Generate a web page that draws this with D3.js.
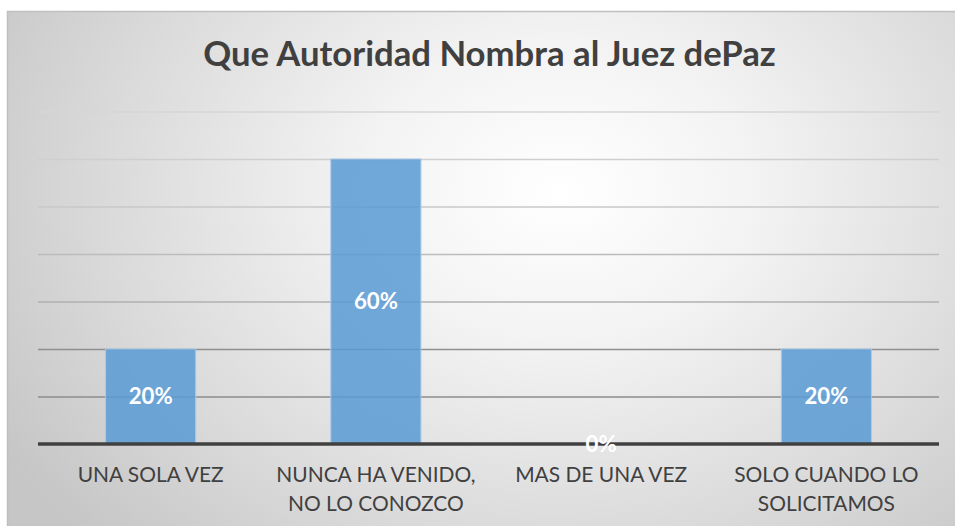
<!DOCTYPE html>
<html>
<head>
<meta charset="utf-8">
<script src="https://cdn.jsdelivr.net/npm/d3@7"></script>
<style>
    html, body { margin: 0; padding: 0; background: #ffffff; overflow: hidden; }
    svg { display: block; }
    text { font-family: Lato, "Open Sans", "DejaVu Sans", sans-serif; }
</style>
</head>
<body>
<script>

// data
var title = "Que Autoridad Nombra al Juez dePaz";
var categories = [
    "UNA SOLA VEZ",
    "NUNCA HA VENIDO,\nNO LO CONOZCO",
    "MAS DE UNA VEZ",
    "SOLO CUANDO LO\nSOLICITAMOS"
];
var values = [0.20, 0.60, 0.00, 0.20];
var gridTicks = [0.1, 0.2, 0.3, 0.4, 0.5, 0.6, 0.7];
var yMax = 0.7;

var W = 955, H = 526;
var plot = { left: 38, right: 939, top: 111.5, bottom: 444 };

var svg = d3.select("body")
    .append("svg")
        .attr("width", W)
        .attr("height", H);

var defs = svg.append("defs");

// soft radial background, white near the title, grey towards the edges
var bg = defs.append("radialGradient")
    .attr("id", "bg")
    .attr("gradientUnits", "userSpaceOnUse")
    .attr("cx", 0).attr("cy", 0).attr("r", 1)
    .attr("gradientTransform", "translate(560,190) scale(650,500)");

bg.append("stop").attr("offset", 0).attr("stop-color", "#ffffff");
bg.append("stop").attr("offset", 0.3).attr("stop-color", "#f3f3f3");
bg.append("stop").attr("offset", 0.7).attr("stop-color", "#dadada");
bg.append("stop").attr("offset", 1).attr("stop-color", "#c6c6c6");

svg.append("rect")
    .attr("x", 7.5)
    .attr("y", 11.5)
    .attr("width", 965)
    .attr("height", 540)
    .attr("fill", "url(#bg)")
    .attr("stroke", "#bfbfbf")
    .attr("stroke-width", 1.5);

var x = d3.scaleBand()
    .domain(categories)
    .range([plot.left, plot.right])
    .paddingInner(0.6)
    .paddingOuter(0.3);

var y = d3.scaleLinear()
    .domain([0, yMax])
    .range([plot.bottom, plot.top]);

// gridlines get darker towards the axis
var gridColor = d3.scaleLinear()
    .domain([0.1, 0.2, 0.3, 0.5, 0.7])
    .range(["#8c8c8c", "#8f8f8f", "#b0b0b0", "#c8c8c8", "#d6d6d6"]);

svg.append("g")
    .attr("transform", "translate(" + plot.left + ",0)")
    .call(d3.axisLeft(y)
        .tickValues(gridTicks)
        .tickSize(-(plot.right - plot.left))
        .tickFormat(""))
    .call(function (g) { g.select(".domain").remove(); })
    .selectAll(".tick line")
        .attr("stroke", function (d) { return gridColor(d); })
        .attr("stroke-width", 1.3);

svg.selectAll(".bar")
    .data(values)
    .enter()
    .append("rect")
        .attr("class", "bar")
        .attr("x", function (d, i) { return x(categories[i]); })
        .attr("y", function (d) { return y(d); })
        .attr("width", x.bandwidth())
        .attr("height", function (d) { return y(0) - y(d); })
        .attr("fill", "#5b9bd5")
        .attr("fill-opacity", 0.86)
        .attr("stroke", "#a9c9e8")
        .attr("stroke-width", 1);

// axis line
svg.append("line")
    .attr("x1", plot.left)
    .attr("x2", plot.right)
    .attr("y1", y(0))
    .attr("y2", y(0))
    .attr("stroke", "#404040")
    .attr("stroke-width", 3.5);

// fit a text element to a measured width
function fitWidth(sel, target) {
    var w = sel.node().getComputedTextLength();
    var fs = parseFloat(sel.style("font-size"));
    return fs * target / w;
}

// title
var t = svg.append("text")
    .attr("x", 489.5)
    .attr("y", 66)
    .attr("text-anchor", "middle")
    .style("font-size", "30px")
    .style("font-weight", "bold")
    .attr("fill", "#404040")
    .text(title);
t.style("font-size", fitWidth(t, 573) + "px");

// category labels
var probe = svg.append("text")
    .style("font-size", "20px")
    .text(categories[0]);
var catSize = fitWidth(probe, 146);
probe.remove();

var labels = svg.selectAll(".cat")
    .data(categories)
    .enter()
    .append("text")
        .attr("class", "cat")
        .attr("text-anchor", "middle")
        .attr("fill", "#404040")
        .style("font-size", catSize + "px");

labels.selectAll("tspan")
    .data(function (d) { return d.split("\n").map(function (s) { return { cat: d, s: s }; }); })
    .enter()
    .append("tspan")
        .attr("x", function (d) { return x(d.cat) + x.bandwidth() / 2; })
        .attr("y", function (d, i) { return 482 + i * 28.5; })
        .text(function (d) { return d.s; });

// value labels in the middle of each bar
var probe2 = svg.append("text")
    .style("font-size", "20px")
    .style("font-weight", "bold")
    .text("20%");
var valSize = fitWidth(probe2, 44);
probe2.remove();

svg.selectAll(".val")
    .data(values)
    .enter()
    .append("text")
        .attr("class", "val")
        .attr("text-anchor", "middle")
        .attr("x", function (d, i) { return x(categories[i]) + x.bandwidth() / 2; })
        .attr("y", function (d) { return (y(d) + y(0)) / 2 + 7.5; })
        .attr("fill", "#ffffff")
        .style("font-size", valSize + "px")
        .style("font-weight", "bold")
        .text(function (d) { return d3.format(".0%")(d); });

</script>
</body>
</html>
